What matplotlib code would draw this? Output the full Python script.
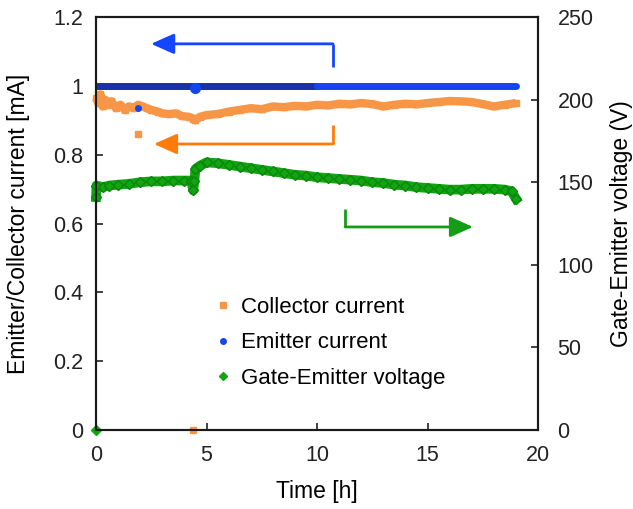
import matplotlib

matplotlib.use("Agg")

import matplotlib.pyplot as plt
from matplotlib.lines import Line2D

plt.rcParams["font.family"] = ["Liberation Sans", "DejaVu Sans"]
plt.rcParams["font.size"] = 15.5

# collector current [mA]
coll_t = [0.0, 0.1, 0.2, 0.3, 0.4, 0.5, 0.7, 0.9, 1.1, 1.3, 1.5, 1.7, 1.9, 2.1, 2.3,
          2.5, 2.8, 3.0, 3.3, 3.6, 3.9, 4.2, 4.4, 4.5, 4.7, 5.0, 5.5, 6.0, 6.5, 7.0,
          7.5, 8.0, 8.5, 9.0, 9.5, 10.0, 10.5, 11.0, 11.5, 12.0, 12.5, 13.0, 13.5,
          14.0, 14.5, 15.0, 15.5, 16.0, 16.5, 17.0, 17.5, 18.0, 18.5, 19.0]
coll_i = [0.965, 0.95, 0.975, 0.94, 0.96, 0.945, 0.955, 0.935, 0.945, 0.93, 0.94,
          0.935, 0.945, 0.94, 0.935, 0.93, 0.925, 0.92, 0.918, 0.92, 0.912, 0.91,
          0.905, 0.90, 0.91, 0.915, 0.918, 0.925, 0.93, 0.935, 0.932, 0.94, 0.938,
          0.942, 0.94, 0.945, 0.943, 0.948, 0.946, 0.95, 0.947, 0.94, 0.945, 0.948,
          0.946, 0.95, 0.953, 0.956, 0.955, 0.953, 0.947, 0.94, 0.945, 0.95]
coll_out_t = [1.9, 4.4]
coll_out_i = [0.86, 0.0]

# emitter current [mA]
emit_t = [0.0, 10.0, 19.0]
emit_i = [1.0, 1.0, 1.0]
emit_out_t = [1.9, 4.5]
emit_out_i = [0.936, 0.993]

# gate-emitter voltage [V]
volt_t = [0.0, 0.02, 0.3, 0.6, 1.0, 1.5, 2.0, 2.5, 3.0, 3.5, 4.0, 4.3, 4.4, 4.45,
          4.5, 4.7, 5.0, 5.5, 6.0, 6.5, 7.0, 7.5, 8.0, 8.5, 9.0, 9.5, 10.0, 10.5,
          11.0, 11.5, 12.0, 12.5, 13.0, 13.5, 14.0, 14.5, 15.0, 15.5, 16.0, 16.5,
          17.0, 17.5, 18.0, 18.5, 18.8, 19.0]
volt_v = [141, 148, 147, 148, 148.5, 149, 150, 150.5, 150.5, 151, 151, 151, 145,
          151, 158, 160, 162, 161.5, 160.5, 159.5, 158.5, 157.5, 156.5, 155.5,
          154.5, 154, 153, 152.5, 152, 151.5, 151, 150, 149.5, 148.5, 148, 147,
          146.5, 146, 145.5, 145.5, 146, 146, 146, 145.5, 144.5, 140]
volt_out_t = [0.0]
volt_out_v = [0.0]

# annotation arrows (time, current): start of corner line, corner, tip
blue_arrow = [(10.72, 1.055), (10.72, 1.122), (2.49, 1.122)]
orange_arrow = [(10.72, 0.887), (10.72, 0.831), (2.62, 0.831)]
green_arrow = [(11.27, 0.642), (11.27, 0.590), (17.06, 0.590)]

ORANGE = "#f79646"
BLUE = "#1446f0"
NAVY = "#1a2fa8"
GREEN = "#12a512"

fig = plt.figure(figsize=(6.33, 5.09), dpi=100)
ax = fig.add_axes([0.1517, 0.1552, 0.6983, 0.8114])
ax2 = ax.twinx()

ax.plot(coll_t, coll_i, color=ORANGE, linewidth=6, marker="s", markersize=5,
        solid_capstyle="butt", clip_on=False, zorder=3)
ax.plot(coll_out_t, coll_out_i, "s", color=ORANGE, markersize=5, clip_on=False, zorder=3)
ax.plot(emit_t[:2], emit_i[:2], color=NAVY, linewidth=5, solid_capstyle="round", zorder=4)
ax.plot(emit_t[1:], emit_i[1:], color=BLUE, linewidth=5, solid_capstyle="round", zorder=4)
ax.plot(emit_out_t[:1], emit_out_i[:1], "o", color=BLUE, markersize=4, zorder=4)
ax.plot(emit_out_t[1:], emit_out_i[1:], "o", color=BLUE, markersize=7, zorder=4)

ax2.plot(volt_t, volt_v, color=GREEN, linewidth=7, marker="D", markersize=5.5,
         markeredgecolor="#0b850b", clip_on=False)
ax2.plot(volt_out_t, volt_out_v, "D", color=GREEN, markersize=5, clip_on=False)

for pts, col in [(blue_arrow, "#1446ff"), (orange_arrow, "#ff7c0a"), (green_arrow, "#169c16")]:
    xs = [p[0] for p in pts[:2]]
    ys = [p[1] for p in pts[:2]]
    ax.plot(xs, ys, color=col, linewidth=2, solid_capstyle="butt", zorder=5)
    ax.annotate("", xy=pts[2], xytext=pts[1],
                arrowprops=dict(arrowstyle="-|>,head_length=0.9,head_width=0.4",
                                color=col, lw=2, shrinkA=0, shrinkB=0), zorder=5)

ax.set_xlim(0, 20)
ax.set_ylim(0, 1.2)
ax2.set_ylim(0, 250)
ax.set_xticks([0, 5, 10, 15, 20])
ax.set_yticks([0, 0.2, 0.4, 0.6, 0.8, 1.0, 1.2])
ax.set_yticklabels(["0", "0.2", "0.4", "0.6", "0.8", "1", "1.2"])
ax2.set_yticks([0, 50, 100, 150, 200, 250])

for a in (ax, ax2):
    for s in a.spines.values():
        s.set_linewidth(1.5)
        s.set_color("#1a1a1a")
ax.tick_params(direction="in", length=5, width=1.2, pad=9, colors="#222222")
ax.tick_params(axis="x", pad=11)
ax2.tick_params(direction="in", length=5, width=1.2, pad=14, colors="#222222")

ax.set_xlabel("Time [h]", fontsize=16.5, labelpad=10)
ax.set_ylabel("Emitter/Collector current [mA]", fontsize=16.5, labelpad=17)
ax2.set_ylabel("Gate-Emitter voltage (V)", fontsize=16.5, labelpad=12)

handles = [
    Line2D([], [], color=ORANGE, marker="s", linestyle="none", markersize=4),
    Line2D([], [], color=BLUE, marker="o", linestyle="none", markersize=4),
    Line2D([], [], color=GREEN, marker="D", linestyle="none", markersize=4),
]
ax2.legend(handles, ["Collector current", "Emitter current", "Gate-Emitter voltage"],
           loc="upper left", bbox_to_anchor=(0.225, 0.37), frameon=False,
           handlelength=0.7, handletextpad=0.45, labelspacing=0.64, fontsize=16)

fig.savefig("out.png", dpi=100)
